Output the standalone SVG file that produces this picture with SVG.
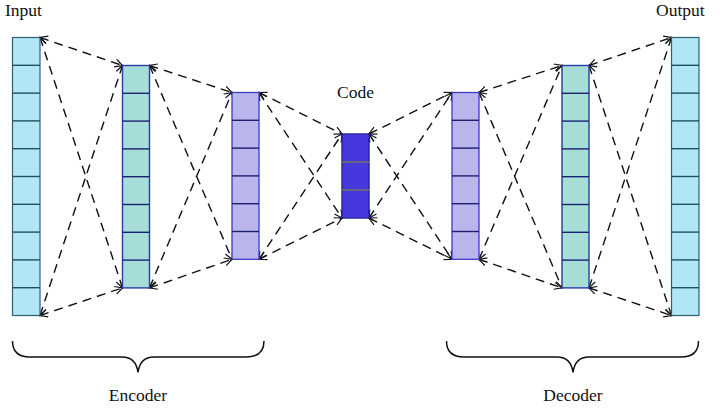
<svg xmlns="http://www.w3.org/2000/svg" width="720" height="410" viewBox="0 0 720 410">
<defs>
<style>
text{font-family:'Liberation Serif','DejaVu Serif',serif;font-size:17.5px;fill:#111}
.inp{fill:#b3e6f4;stroke:#2d5f72;stroke-width:1.2}
.enc1{fill:#a6ddd6;stroke:#2a3aa8;stroke-width:1.4}
.enc2{fill:#bab5ea;stroke:#3b3bc8;stroke-width:1.3}
.code{fill:#4538dc;stroke:#22229a;stroke-width:1.4}
.div{stroke-width:1.4}
.edge{fill:none;stroke:#111;stroke-width:1.4;stroke-dasharray:9,6;marker-start:url(#ah);marker-end:url(#ah)}
.brace{fill:none;stroke:#111;stroke-width:1.5}
</style>
<marker id="ah" markerUnits="userSpaceOnUse" markerWidth="12" markerHeight="12" refX="8" refY="4.5" orient="auto-start-reverse">
<path d="M0.5,0.5 L8,4.5 L0.5,8.5" fill="none" stroke="#111" stroke-width="1.2"/>
</marker>
</defs>
<rect width="720" height="410" fill="#fff"/>

<g id="connectors">
<line class="edge" x1="40" y1="37.5" x2="122.5" y2="65.5"/>
<line class="edge" x1="40" y1="37.5" x2="122.5" y2="287.9"/>
<line class="edge" x1="40" y1="315.5" x2="122.5" y2="65.5"/>
<line class="edge" x1="40" y1="315.5" x2="122.5" y2="287.9"/>
<line class="edge" x1="149.5" y1="65.5" x2="232" y2="92.5"/>
<line class="edge" x1="149.5" y1="65.5" x2="232" y2="259.3"/>
<line class="edge" x1="149.5" y1="287.9" x2="232" y2="92.5"/>
<line class="edge" x1="149.5" y1="287.9" x2="232" y2="259.3"/>
<line class="edge" x1="259" y1="92.5" x2="342" y2="134"/>
<line class="edge" x1="259" y1="92.5" x2="342" y2="218"/>
<line class="edge" x1="259" y1="259.3" x2="342" y2="134"/>
<line class="edge" x1="259" y1="259.3" x2="342" y2="218"/>
<line class="edge" x1="369" y1="134" x2="452" y2="92.5"/>
<line class="edge" x1="369" y1="134" x2="452" y2="259.3"/>
<line class="edge" x1="369" y1="218" x2="452" y2="92.5"/>
<line class="edge" x1="369" y1="218" x2="452" y2="259.3"/>
<line class="edge" x1="479" y1="92.5" x2="562" y2="65.5"/>
<line class="edge" x1="479" y1="92.5" x2="562" y2="287.9"/>
<line class="edge" x1="479" y1="259.3" x2="562" y2="65.5"/>
<line class="edge" x1="479" y1="259.3" x2="562" y2="287.9"/>
<line class="edge" x1="589" y1="65.5" x2="671.5" y2="37.5"/>
<line class="edge" x1="589" y1="65.5" x2="671.5" y2="315.5"/>
<line class="edge" x1="589" y1="287.9" x2="671.5" y2="37.5"/>
<line class="edge" x1="589" y1="287.9" x2="671.5" y2="315.5"/>
</g>

<g id="input">
<rect class="inp" x="12.5" y="37.5" width="27.5" height="278"/>
<g stroke="#1f4f63" class="div">
<line x1="12.5" y1="65.3" x2="40" y2="65.3"/><line x1="12.5" y1="93.1" x2="40" y2="93.1"/>
<line x1="12.5" y1="120.9" x2="40" y2="120.9"/><line x1="12.5" y1="148.7" x2="40" y2="148.7"/>
<line x1="12.5" y1="176.5" x2="40" y2="176.5"/><line x1="12.5" y1="204.3" x2="40" y2="204.3"/>
<line x1="12.5" y1="232.1" x2="40" y2="232.1"/><line x1="12.5" y1="259.9" x2="40" y2="259.9"/>
<line x1="12.5" y1="287.7" x2="40" y2="287.7"/>
</g>
<text x="5" y="16" font-family="Liberation Serif, serif">Input</text>
</g>

<g id="encoder1">
<rect class="enc1" x="122.5" y="65.5" width="27" height="222.4"/>
<g stroke="#18226e" class="div">
<line x1="122.5" y1="93.3" x2="149.5" y2="93.3"/><line x1="122.5" y1="121.1" x2="149.5" y2="121.1"/>
<line x1="122.5" y1="148.9" x2="149.5" y2="148.9"/><line x1="122.5" y1="176.7" x2="149.5" y2="176.7"/>
<line x1="122.5" y1="204.5" x2="149.5" y2="204.5"/><line x1="122.5" y1="232.3" x2="149.5" y2="232.3"/>
<line x1="122.5" y1="260.1" x2="149.5" y2="260.1"/>
</g>
</g>

<g id="encoder2">
<rect class="enc2" x="232" y="92.5" width="27" height="166.8"/>
<g stroke="#1c1f70" class="div">
<line x1="232" y1="120.3" x2="259" y2="120.3"/><line x1="232" y1="148.1" x2="259" y2="148.1"/>
<line x1="232" y1="175.9" x2="259" y2="175.9"/><line x1="232" y1="203.7" x2="259" y2="203.7"/>
<line x1="232" y1="231.5" x2="259" y2="231.5"/>
</g>
</g>

<g id="code">
<rect class="code" x="342" y="134" width="27" height="84"/>
<g stroke="#7a7a5a" class="div">
<line x1="342" y1="162" x2="369" y2="162"/><line x1="342" y1="190" x2="369" y2="190"/>
</g>
<text x="355.5" y="98" text-anchor="middle" font-family="Liberation Serif, serif">Code</text>
</g>

<g id="decoder2">
<rect class="enc2" x="452" y="92.5" width="27" height="166.8"/>
<g stroke="#1c1f70" class="div">
<line x1="452" y1="120.3" x2="479" y2="120.3"/><line x1="452" y1="148.1" x2="479" y2="148.1"/>
<line x1="452" y1="175.9" x2="479" y2="175.9"/><line x1="452" y1="203.7" x2="479" y2="203.7"/>
<line x1="452" y1="231.5" x2="479" y2="231.5"/>
</g>
</g>

<g id="decoder1">
<rect class="enc1" x="562" y="65.5" width="27" height="222.4"/>
<g stroke="#18226e" class="div">
<line x1="562" y1="93.3" x2="589" y2="93.3"/><line x1="562" y1="121.1" x2="589" y2="121.1"/>
<line x1="562" y1="148.9" x2="589" y2="148.9"/><line x1="562" y1="176.7" x2="589" y2="176.7"/>
<line x1="562" y1="204.5" x2="589" y2="204.5"/><line x1="562" y1="232.3" x2="589" y2="232.3"/>
<line x1="562" y1="260.1" x2="589" y2="260.1"/>
</g>
</g>

<g id="output">
<rect class="inp" x="671.5" y="37.5" width="27.5" height="278"/>
<g stroke="#1f4f63" class="div">
<line x1="671.5" y1="65.3" x2="699" y2="65.3"/><line x1="671.5" y1="93.1" x2="699" y2="93.1"/>
<line x1="671.5" y1="120.9" x2="699" y2="120.9"/><line x1="671.5" y1="148.7" x2="699" y2="148.7"/>
<line x1="671.5" y1="176.5" x2="699" y2="176.5"/><line x1="671.5" y1="204.3" x2="699" y2="204.3"/>
<line x1="671.5" y1="232.1" x2="699" y2="232.1"/><line x1="671.5" y1="259.9" x2="699" y2="259.9"/>
<line x1="671.5" y1="287.7" x2="699" y2="287.7"/>
</g>
<text x="656" y="16" font-family="Liberation Serif, serif">Output</text>
</g>

<g id="encoder-brace">
<path class="brace" d="M12.5,341 Q12.5,357 30,357 L122,357 Q136,357 138,372.5 Q140,357 154,357 L246,357 Q264,357 264,341"/>
<text x="138" y="401" text-anchor="middle" font-family="Liberation Serif, serif">Encoder</text>
</g>

<g id="decoder-brace">
<path class="brace" d="M446.5,341 Q446.5,357 464,357 L557,357 Q571,357 573,372.5 Q575,357 589,357 L681,357 Q698.5,357 698.5,341"/>
<text x="573" y="401" text-anchor="middle" font-family="Liberation Serif, serif">Decoder</text>
</g>
</svg>
